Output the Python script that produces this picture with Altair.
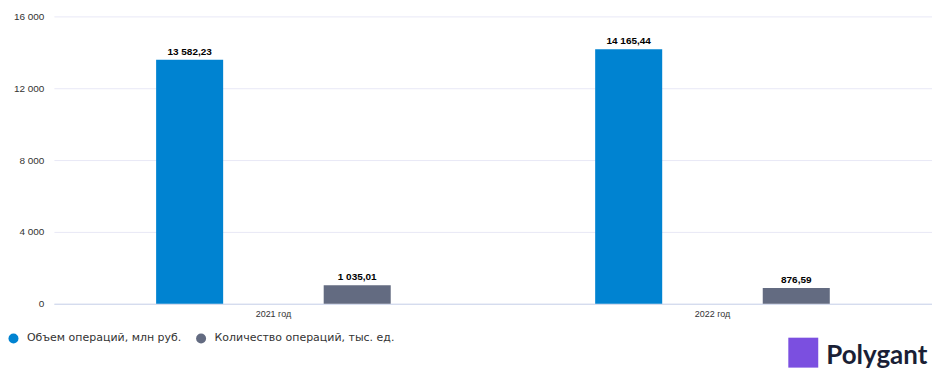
import altair as alt
import pandas as pd

years = ["2021 год", "2022 год"]
series = ["Объем операций, млн руб.", "Количество операций, тыс. ед."]
volume = [13582.23, 14165.44]
count = [1035.01, 876.59]
volume_labels = ["13 582,23", "14 165,44"]
count_labels = ["1 035,01", "876,59"]
colors = ["#0083D1", "#636B81"]
y_ticks = [0, 4000, 8000, 12000, 16000]

rows = []
for i, yr in enumerate(years):
    rows.append(dict(year=yr, series=series[0], value=volume[i], label=volume_labels[i]))
    rows.append(dict(year=yr, series=series[1], value=count[i], label=count_labels[i]))
df = pd.DataFrame(rows)

x = alt.X("year:N", sort=years,
          scale=alt.Scale(paddingInner=0, paddingOuter=0),
          axis=alt.Axis(title=None, labelAngle=0, ticks=False, domainColor="#ccd6eb",
                        labelFontSize=9, labelColor="#333333", labelPadding=6,
                        labelFont="Liberation Sans"))
xo = alt.XOffset("series:N", sort=series,
                 scale=alt.Scale(paddingInner=0.6, paddingOuter=0.61))
y = alt.Y("value:Q", scale=alt.Scale(domain=[0, 16000]),
          axis=alt.Axis(title=None, values=y_ticks,
                        labelExpr="replace(format(datum.value, ','), ',', ' ')",
                        domain=False, ticks=False, gridColor="#e8e8f6",
                        labelFontSize=10, labelColor="#333333", labelPadding=10,
                        labelFont="Liberation Sans"))
color = alt.Color("series:N", sort=series,
                  scale=alt.Scale(domain=series, range=colors),
                  legend=alt.Legend(title=None, orient="none", direction="horizontal",
                                    legendX=-46, legendY=317, symbolType="circle",
                                    symbolSize=100, symbolStrokeWidth=0,
                                    labelFontSize=11, labelFont="DejaVu Sans",
                                    labelColor="#333333", columnPadding=14,
                                    labelOffset=8, labelLimit=400))

bars = alt.Chart(df).mark_bar().encode(x=x, xOffset=xo, y=y, color=color)
labels = alt.Chart(df).mark_text(dy=-8, fontSize=10, fontWeight="bold",
                                 font="Liberation Sans", color="#000000").encode(
    x=x, xOffset=xo, y=y, text="label:N")

brand = pd.DataFrame({"t": ["Polygant"]})
logo_text = alt.Chart(brand).mark_text(fontSize=26, fontWeight="bold", font="Lato",
                                       color="#1a1f36", align="left").encode(
    x=alt.value(774), y=alt.value(340), text="t:N")
logo_icon = alt.Chart(brand).mark_point(shape="square", filled=True, size=900,
                                        color="#7b4fe0", opacity=1).encode(
    x=alt.value(751), y=alt.value(337))

chart = alt.layer(bars, labels, logo_icon, logo_text).properties(
    width=880, height=288,
    padding={"top": 3, "left": 0, "right": 0, "bottom": 5}
).configure(background="white").configure_view(stroke=None)

chart.save("out.html", embed_options={"renderer": "svg", "actions": False})
